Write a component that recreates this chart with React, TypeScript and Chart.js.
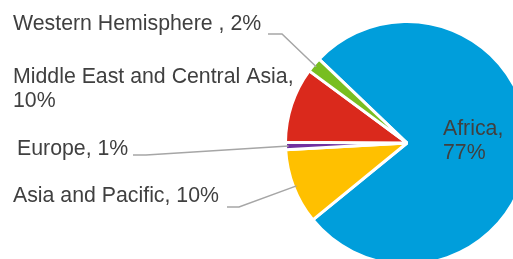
import React, { useEffect, useRef } from "react";
import { Chart, registerables } from "chart.js";

Chart.register(...registerables);

const categories = ["Africa", "Asia and Pacific", "Europe", "Middle East and Central Asia", "Western Hemisphere "];
const shares = [77, 10, 1, 10, 2];
const colors = ["#009EDB", "#FFC000", "#7030A0", "#DA291C", "#78BE20"];
const labelLines = [
  ["Africa,", "77%"],
  ["Asia and Pacific, 10%"],
  ["Europe, 1%"],
  ["Middle East and Central Asia,", "10%"],
  ["Western Hemisphere , 2%"],
];

// label placement: text left x, first baseline y, leader elbow (null = no leader)
const labelPos: { x: number; y: number; leader: null | { hx0: number; hx1: number; ly: number } }[] = [
  { x: 443, y: 135, leader: null },
  { x: 13, y: 202, leader: { hx0: 227, hx1: 239, ly: 207 } },
  { x: 17, y: 155, leader: { hx0: 133, hx1: 146, ly: 155 } },
  { x: 13, y: 83, leader: null },
  { x: 13, y: 30, leader: { hx0: 268, hx1: 282, ly: 34 } },
];

const labelPlugin = {
  id: "pieLabels",
  afterDraw(chart: any) {
    const ctx = chart.ctx;
    const meta = chart.getDatasetMeta(0);
    ctx.save();
    ctx.font = '21.3px "Liberation Sans", Arial, sans-serif';
    ctx.fillStyle = "#404040";
    ctx.textBaseline = "alphabetic";
    ctx.textAlign = "left";
    meta.data.forEach((arc: any, i: number) => {
      const p = labelPos[i];
      const lines = labelLines[i];
      lines.forEach((t, k) => ctx.fillText(t, p.x, p.y + k * 24));
      if (p.leader) {
        const mid = (arc.startAngle + arc.endAngle) / 2;
        const r = arc.outerRadius - 3;
        const ax = arc.x + Math.cos(mid) * r;
        const ay = arc.y + Math.sin(mid) * r;
        ctx.beginPath();
        ctx.strokeStyle = "#A6A6A6";
        ctx.lineWidth = 1.5;
        ctx.moveTo(p.leader.hx0, p.leader.ly);
        ctx.lineTo(p.leader.hx1, p.leader.ly);
        ctx.lineTo(ax, ay);
        ctx.stroke();
      }
    });
    ctx.restore();
  },
};

export default function App() {
  const ref = useRef<HTMLCanvasElement>(null);
  useEffect(() => {
    if (!ref.current) return;
    const chart = new Chart(ref.current, {
      type: "pie",
      data: {
        labels: categories,
        datasets: [
          {
            data: shares,
            backgroundColor: colors,
            borderColor: "#FFFFFF",
            borderWidth: 3,
          },
        ],
      },
      options: {
        responsive: false,
        animation: false,
        rotation: -46.4,
        radius: 121.5,
        layout: { padding: 0 },
        plugins: {
          legend: { display: false },
          tooltip: { enabled: false },
        },
      },
      plugins: [labelPlugin],
    });
    return () => chart.destroy();
  }, []);
  return (
    <div
      style={{
        position: "fixed",
        left: 0,
        top: 0,
        width: 513,
        height: 259,
        overflow: "hidden",
        background: "#fff",
      }}
    >
      <canvas
        ref={ref}
        width={814}
        height={286}
        style={{ position: "absolute", left: 0, top: 0, width: 814, height: 286 }}
      />
    </div>
  );
}
